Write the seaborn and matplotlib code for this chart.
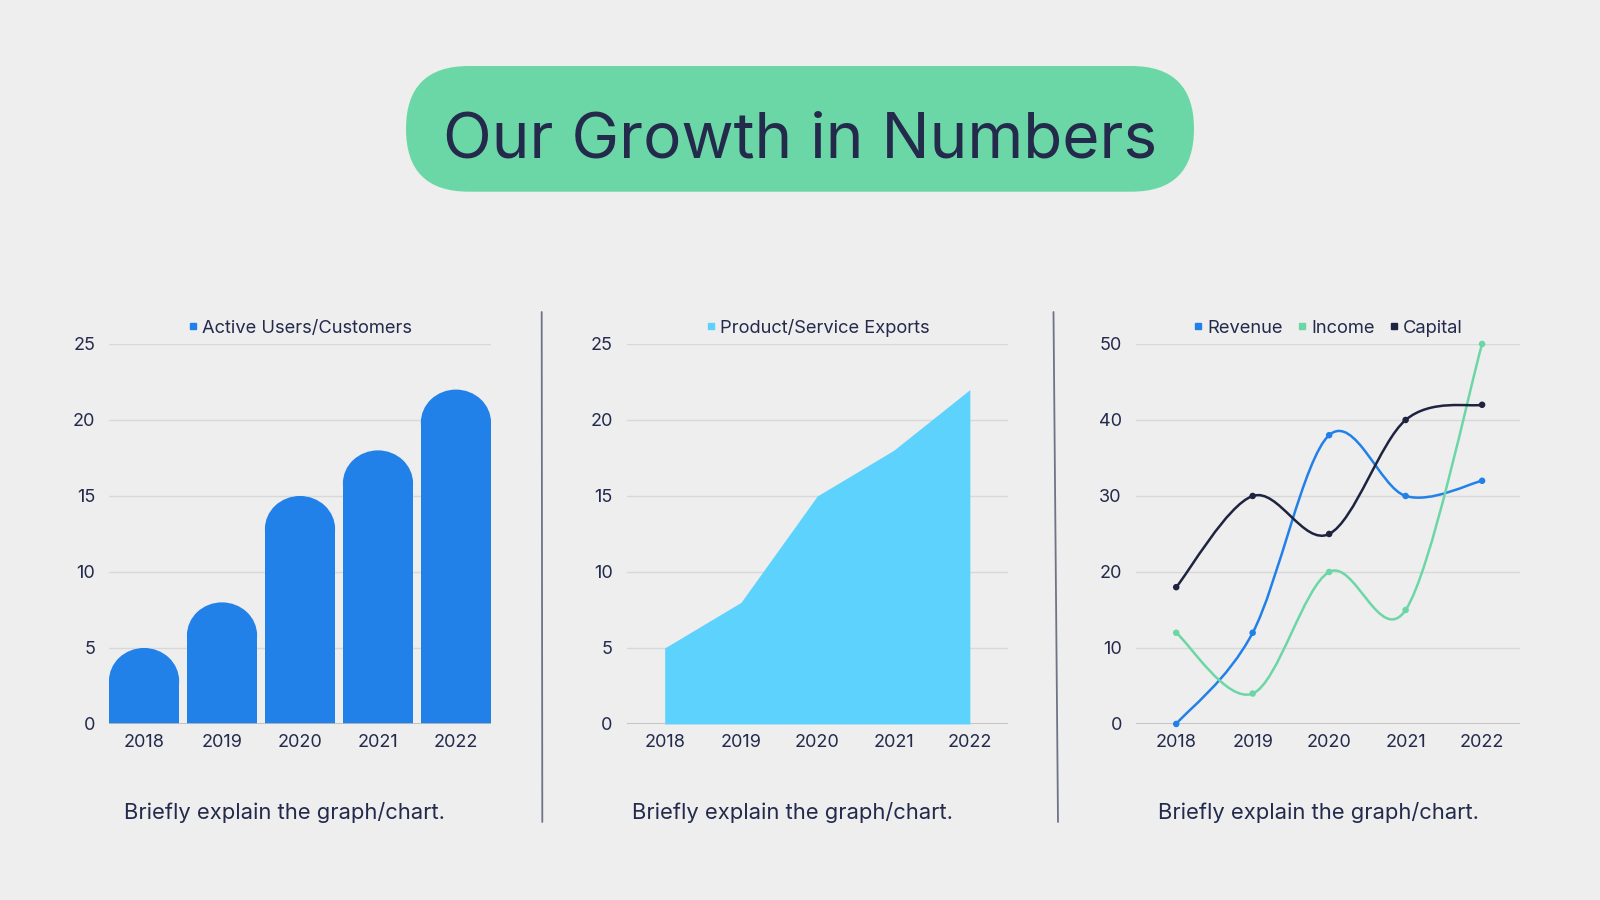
import numpy as np
import pandas as pd
import matplotlib
matplotlib.use("Agg")
import matplotlib.pyplot as plt
import seaborn as sns
from matplotlib.patches import FancyBboxPatch, Ellipse, PathPatch
from matplotlib.path import Path
from matplotlib.lines import Line2D

# =========================
# DATA
# =========================

years = ["2018", "2019", "2020", "2021", "2022"]
active_users = [5, 8, 15, 18, 22]
exports = [5, 8, 15, 18, 22]
revenue = [0, 12, 38, 30, 32]
income = [12, 4, 20, 15, 50]
capital = [18, 30, 25, 40, 42]

title = "Our Growth in Numbers"
caption = "Briefly explain the graph/chart."

# =========================
# STYLE
# =========================

BG = "#EEEEEE"
NAVY = "#232A4B"
BAR_BLUE = "#2181E8"
AREA_BLUE = "#5CD2FC"
GREEN = "#6CD7A6"
DARK = "#1E2340"
GRID = "#D8D8D8"
BASE = "#BDBDBD"

sns.set_theme(style="white")
plt.rcParams["font.family"] = ["Inter", "DejaVu Sans"]
plt.rcParams["axes.facecolor"] = "none"
plt.rcParams["figure.facecolor"] = BG

fig = plt.figure(figsize=(16, 9), dpi=100)

# background layer in pixel coordinates (top-left origin)
bg = fig.add_axes([0, 0, 1, 1], zorder=0)
bg.set_xlim(0, 1600)
bg.set_ylim(900, 0)
bg.axis("off")

pill = FancyBboxPatch((406, 66), 1600 - 2 * 406, 125.7,
                      boxstyle="round,pad=0,rounding_size=62.8",
                      facecolor=GREEN, edgecolor="none")
bg.add_patch(pill)
bg.text(800, 157, title, ha="center", va="baseline",
        fontsize=46, color=NAVY)

bg.plot([541.7, 542.3], [312, 822], color="#6F7386", lw=1.3)
bg.plot([1053.5, 1058], [312, 822], color="#6F7386", lw=1.3)

for cx in [284.5, 792.4, 1318.5]:
    bg.text(cx, 819, caption, ha="center", va="baseline",
            fontsize=15.8, color=NAVY)


def style_axis(ax, ymax, step):
    ax.set_ylim(0, ymax)
    ax.set_yticks(np.arange(0, ymax + 1, step))
    ax.grid(axis="y", color=GRID, lw=1)
    ax.grid(axis="x", visible=False)
    ax.set_axisbelow(True)
    for s in ax.spines.values():
        s.set_visible(False)
    ax.axhline(0, color=BASE, lw=1.2, zorder=1)
    ax.tick_params(axis="both", length=0, labelsize=13, labelcolor=NAVY)
    ax.tick_params(axis="y", pad=10)
    ax.tick_params(axis="x", pad=7)
    ax.set_xlabel("")
    ax.set_ylabel("")


def add_legend(ax, labels, colors):
    handles = [Line2D([], [], marker="s", linestyle="none", markersize=4.5,
                      color=c) for c in colors]
    ax.legend(handles, labels, loc="lower center", bbox_to_anchor=(0.5, 1.0),
              ncol=len(labels), frameon=False, fontsize=13.2, handlelength=0.6,
              handletextpad=0.2, columnspacing=0.75, borderaxespad=0.0,
              labelcolor=NAVY)


bottom, height = 0.1956, 0.4222

# =========================
# PANEL 1 - ROUNDED BARS
# =========================

ax1 = fig.add_axes([0.0681, bottom, 0.2388, height], zorder=2)
bar_w = 0.9
df_users = pd.DataFrame({"Year": years, "Users": active_users})
sns.barplot(data=df_users, x="Year", y="Users", color=BAR_BLUE,
            width=bar_w, saturation=1, ax=ax1)
style_axis(ax1, 25, 5)
ax1.set_xlim(-bar_w / 2, len(years) - 1 + bar_w / 2)
add_legend(ax1, ["Active Users/Customers"], [BAR_BLUE])

# turn the bar tops into half-rounds
p0 = ax1.transData.transform((0, 0))
p1 = ax1.transData.transform((1, 1))
px_x, px_y = p1[0] - p0[0], p1[1] - p0[1]
for patch in list(ax1.patches):
    x0, w, h = patch.get_x(), patch.get_width(), patch.get_height()
    r_y = (w * px_x / 2) * 0.94 / px_y
    patch.set_height(h - r_y)
    patch.set_linewidth(0)
    ax1.add_patch(Ellipse((x0 + w / 2, h - r_y), w, 2 * r_y,
                          facecolor=BAR_BLUE, edgecolor="none", zorder=2))

# =========================
# PANEL 2 - AREA
# =========================

ax2 = fig.add_axes([0.3916, bottom, 0.2384, height], zorder=2)
xpos = np.arange(len(years))
ax2.fill_between(xpos, exports, color=AREA_BLUE, lw=0, zorder=2)
style_axis(ax2, 25, 5)
ax2.set_xticks(xpos)
ax2.set_xticklabels(years)
ax2.set_xlim(-0.5, 4.5)
add_legend(ax2, ["Product/Service Exports"], [AREA_BLUE])

# =========================
# PANEL 3 - SMOOTH LINES
# =========================


def smooth_path(xs, ys):
    pts = np.column_stack([xs, ys]).astype(float)
    verts = [pts[0]]
    codes = [Path.MOVETO]
    for i in range(len(pts) - 1):
        a = pts[i - 1] if i > 0 else pts[i]
        b, c = pts[i], pts[i + 1]
        d = pts[i + 2] if i + 2 < len(pts) else pts[i + 1]
        verts += [b + (c - a) / 6, c - (d - b) / 6, c]
        codes += [Path.CURVE4] * 3
    return Path(verts, codes)


ax3 = fig.add_axes([0.7098, bottom, 0.2404, height], zorder=2)
series = {"Revenue": (revenue, BAR_BLUE),
          "Income": (income, GREEN),
          "Capital": (capital, DARK)}
df_lines = pd.DataFrame({"Year": np.tile(xpos, 3),
                         "Value": revenue + income + capital,
                         "Series": np.repeat(list(series), len(years))})
for name, (vals, col) in series.items():
    ax3.add_patch(PathPatch(smooth_path(xpos, vals), facecolor="none",
                            edgecolor=col, lw=1.8, zorder=3, clip_on=False))
sns.scatterplot(data=df_lines, x="Year", y="Value", hue="Series",
                palette={k: v[1] for k, v in series.items()}, s=22,
                linewidth=0, legend=False, zorder=4, clip_on=False, ax=ax3)
style_axis(ax3, 50, 10)
ax3.set_xticks(xpos)
ax3.set_xticklabels(years)
ax3.set_xlim(-0.53, 4.5)
add_legend(ax3, list(series), [v[1] for v in series.values()])

fig.savefig("out.png", dpi=100, facecolor=BG)
